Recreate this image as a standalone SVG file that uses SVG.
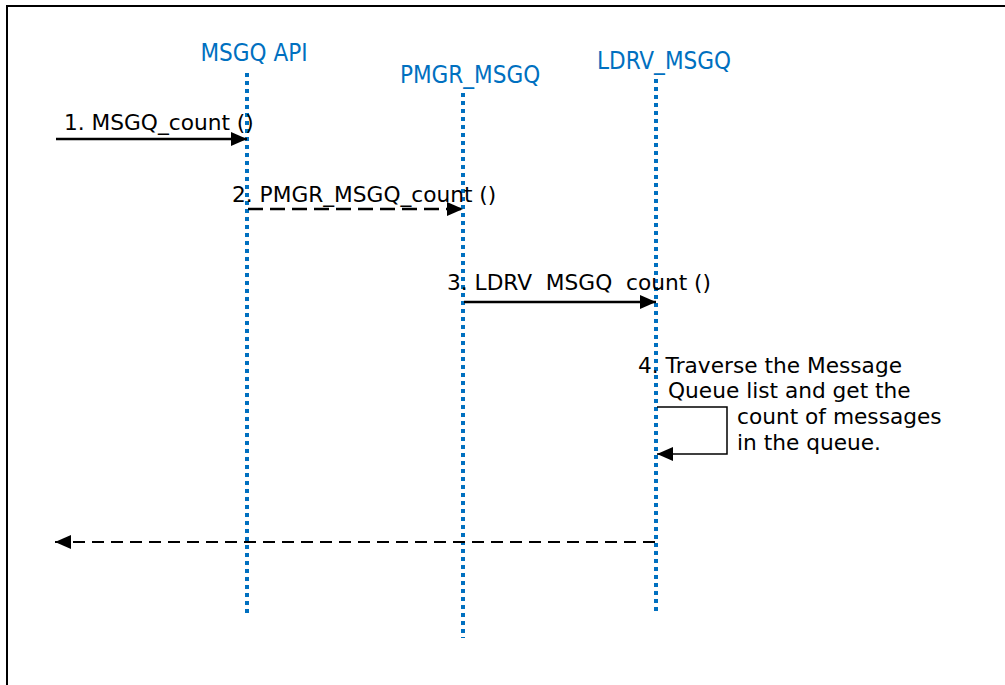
<svg xmlns="http://www.w3.org/2000/svg" width="1005" height="685" viewBox="0 0 1005 685">
<defs>
<style>
.frame{fill:none;stroke:#000;stroke-width:2}
.life{stroke:#0070C0;stroke-width:4;stroke-dasharray:4 4;fill:none}
.lbl{font-family:"DejaVu Sans Condensed","DejaVu Sans",sans-serif;font-size:24px;fill:#0070C0;text-anchor:middle}
.msg{font-family:"DejaVu Sans",Verdana,sans-serif;font-size:21.7px;fill:#000;white-space:pre}
.solid{stroke:#000;stroke-width:2.5;fill:none}
.dash{stroke:#000;stroke-width:2.5;fill:none;stroke-dasharray:15 7}
.dash2{stroke:#000;stroke-width:2;fill:none;stroke-dasharray:12 7}
.loop{stroke:#000;stroke-width:1.5;fill:none}
</style>
<marker id="ah" markerWidth="17" markerHeight="14" refX="16" refY="7" orient="auto" markerUnits="userSpaceOnUse">
<path d="M0,0 L16,7 L0,14 Z" fill="#000"/>
</marker>
</defs>
<rect class="frame" x="7" y="6" width="1010" height="700"/>
<g id="node-msgq-api">
<text class="lbl" x="254" y="61">MSGQ API</text>
<line class="life" x1="247" y1="73" x2="247" y2="614"/>
</g>
<g id="node-pmgr-msgq">
<text class="lbl" x="470" y="83">PMGR_MSGQ</text>
<line class="life" x1="463" y1="93" x2="463" y2="638"/>
</g>
<g id="node-ldrv-msgq">
<text class="lbl" x="664" y="69">LDRV_MSGQ</text>
<line class="life" x1="656" y1="79" x2="656" y2="611"/>
</g>
<g id="connectors">
<line class="solid" x1="56" y1="139" x2="247" y2="139" marker-end="url(#ah)"/>
<line class="dash" x1="248" y1="209" x2="463" y2="209" marker-end="url(#ah)"/>
<line class="solid" x1="464" y1="302" x2="656" y2="302" marker-end="url(#ah)"/>
<polyline class="loop" points="657,407 727,407 727,454 657,454" marker-end="url(#ah)"/>
<line class="dash2" x1="655" y1="542" x2="55" y2="542" marker-end="url(#ah)"/>
</g>
<g id="labels">
<text class="msg" x="64" y="130">1. MSGQ_count ()</text>
<text class="msg" x="232" y="202">2. PMGR_MSGQ_count ()</text>
<text class="msg" x="447" y="290" xml:space="preserve">3. LDRV  MSGQ  count ()</text>
<text class="msg" x="638" y="373">4. Traverse the Message</text>
<text class="msg" x="668" y="398">Queue list and get the</text>
<text class="msg" x="737" y="424">count of messages</text>
<text class="msg" x="737" y="450">in the queue.</text>
</g>
</svg>
